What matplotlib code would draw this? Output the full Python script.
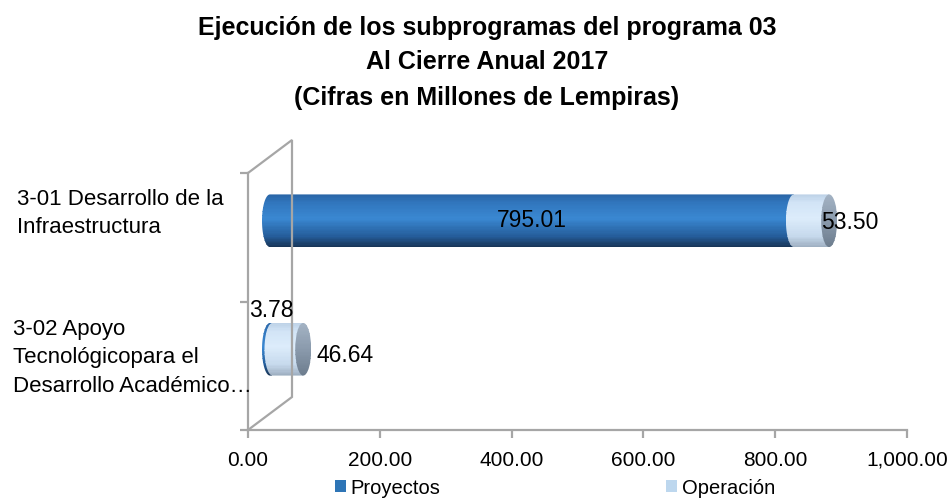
import matplotlib
matplotlib.use("Agg")
import matplotlib.pyplot as plt
import numpy as np
from matplotlib.transforms import ScaledTranslation
from matplotlib.patches import Polygon, Ellipse, Patch
from matplotlib.colors import LinearSegmentedColormap

plt.rcParams['font.family'] = ['Liberation Sans', 'DejaVu Sans']

# ---- data ----
categories = ["3-01 Desarrollo de la\nInfraestructura",
              "3-02 Apoyo\nTecnológicopara el\nDesarrollo Académico…"]
proyectos = [795.01, 3.78]
operacion = [53.50, 46.64]
series_names = ["Proyectos", "Operación"]
xticks = [0, 200, 400, 600, 800, 1000]
title_lines = ["Ejecución de los subprogramas del programa 03",
               "Al Cierre Anual 2017",
               "(Cifras en Millones de Lempiras)"]

W, H = 948, 500
fig = plt.figure(figsize=(W / 100, H / 100), dpi=100)
ax_l, ax_r, ax_b, ax_t = 248, 907, 430, 173
ax = fig.add_axes([ax_l / W, 1 - ax_b / H, (ax_r - ax_l) / W, (ax_b - ax_t) / H])
ax.set_xlim(0, 1000)
ax.set_ylim(-0.5, 1.5)

pxu = (ax_r - ax_l) / 1000.0          # pixels per data unit
tr = ax.transData + ScaledTranslation(22 / 100, 16.5 / 100, fig.dpi_scale_trans)

ypos = [1, 0]        # category positions (first category at top)
bh = 0.41            # bar thickness in y units
hw = 8 / pxu         # half-width of the end ellipse (data units)

cm_dark = LinearSegmentedColormap.from_list("d", [(0, '#183659'), (0.2, '#255d9a'), (0.55, '#3a88d2'),
                                                  (0.85, '#3176bd'), (1, '#2a66a8')])
cm_light = LinearSegmentedColormap.from_list("l", [(0, '#9fb0c2'), (0.2, '#c6d9ec'), (0.55, '#dcecfb'),
                                                   (0.85, '#d2e4f6'), (1, '#bfd3e8')])
cm_cap = LinearSegmentedColormap.from_list("c", [(0, '#6d7d8e'), (0.5, '#8a9aac'), (1, '#a3b2c3')])

NS = 40


def stripes(yc, left, width, cmap, clip):
    hs = bh / NS
    ys = [yc - bh / 2 + (i + 0.5) * hs for i in range(NS)]
    cols = [cmap(i / (NS - 1)) for i in range(NS)]
    bars = ax.barh(ys, [width] * NS, left=left, height=hs * 1.15, color=cols,
                   linewidth=0, transform=tr)
    for b in bars:
        b.set_clip_path(clip)


def segment(yc, a, b, cmap):
    th = np.linspace(np.pi / 2, 3 * np.pi / 2, 40)
    pts = [(a + hw * np.cos(t), yc + bh / 2 * np.sin(t)) for t in th]
    pts += [(b, yc - bh / 2), (b, yc + bh / 2)]
    clip = Polygon(pts, closed=True, transform=tr)
    stripes(yc, a - hw, b - a + hw, cmap, clip)


for y, p, o in zip(ypos, proyectos, operacion):
    segment(y, 0, p, cm_dark)
    segment(y, p, p + o, cm_light)
    cap = Ellipse((p + o, y), 2 * hw, bh, transform=tr)
    stripes(y, p + o - hw, 2 * hw, cm_cap, cap)

# data labels
lab_fs = 16.5
ax.text(proyectos[0] / 2, ypos[0], f"{proyectos[0]:.2f}", transform=tr,
        ha='center', va='center', fontsize=lab_fs)
ax.annotate(f"{operacion[0]:.2f}", xy=(proyectos[0] + operacion[0], ypos[0]), xycoords=tr,
            xytext=(-8, -2), textcoords='offset pixels', ha='left', va='center', fontsize=lab_fs)
ax.annotate(f"{proyectos[1]:.2f}", xy=(0, ypos[1] + bh / 2), xycoords=tr,
            xytext=(-21, 1), textcoords='offset pixels', ha='left', va='bottom', fontsize=lab_fs)
ax.annotate(f"{operacion[1]:.2f}", xy=(proyectos[1] + operacion[1], ypos[1]), xycoords=tr,
            xytext=(13, -6), textcoords='offset pixels', ha='left', va='center', fontsize=lab_fs)

# axes / walls
gray = '#a6a6a6'
for s in ['top', 'right']:
    ax.spines[s].set_visible(False)
for s in ['left', 'bottom']:
    ax.spines[s].set_color(gray)
    ax.spines[s].set_linewidth(1.6)
ax.set_xticks(xticks)
ax.set_xticklabels([f"{v:,.2f}" for v in xticks])
ax.tick_params(axis='x', length=6, width=1.6, color=gray, labelsize=15, pad=9, direction='out')
ax.set_yticks([-0.5, 0.5, 1.5])
ax.set_yticklabels([])
ax.tick_params(axis='y', length=6, width=1.6, color=gray, direction='out')

dxa = 44 / (ax_r - ax_l)
dya = 33 / (ax_b - ax_t)
ax.plot([0, dxa, dxa, 0], [1, 1 + dya, dya, 0], color=gray, lw=1.6,
        transform=ax.transAxes, clip_on=False, solid_joinstyle='miter')

# category labels
fig.text(17 / W, 1 - 213.5 / H, categories[0], ha='left', va='center', fontsize=16, linespacing=1.45)
fig.text(13 / W, 1 - 358 / H, categories[1], ha='left', va='center', fontsize=16, linespacing=1.45)

# title
for yy, t in zip([28, 62, 98], title_lines):
    fig.text(487 / W, 1 - yy / H, t, ha='center', va='center', fontsize=18, fontweight='bold')

# legend
handles = [Patch(facecolor='#2e75b6'), Patch(facecolor='#bdd7ee')]
fig.legend(handles, series_names, loc='center', bbox_to_anchor=(555 / W, 1 - 488 / H),
           ncol=2, frameon=False, fontsize=14.5, handlelength=0.55, handleheight=0.55,
           handletextpad=0.25, columnspacing=11.2, borderpad=0, borderaxespad=0)

fig.savefig("out.png", dpi=100)
